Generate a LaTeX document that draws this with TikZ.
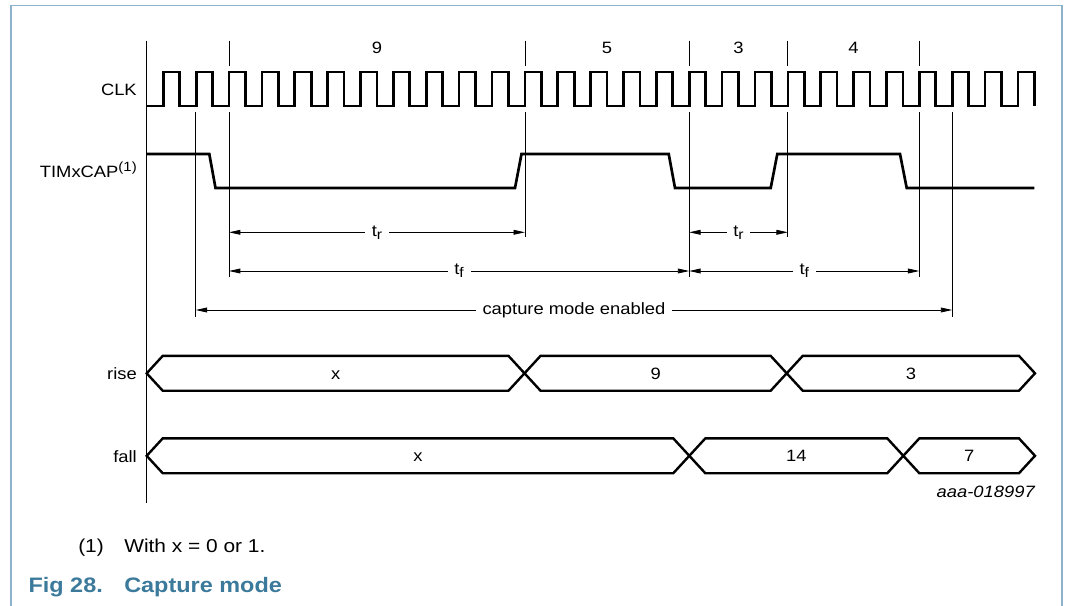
\documentclass[tikz,border=0pt]{standalone}
\usepackage{fontspec}
\setmainfont[FakeStretch=1.12]{Liberation Sans}
\usetikzlibrary{arrows.meta}

\definecolor{capblue}{RGB}{60,122,156}
\definecolor{frameblue}{RGB}{140,178,204}

\tikzset{
  txt/.style={font=\fontsize{12.3}{14}\selectfont, inner sep=0pt},
  sig/.style={line width=2pt, line join=miter},
  bus/.style={line width=1.8pt, line join=miter},
  tickline/.style={line width=0.6pt},
  dim/.style={line width=0.6pt, {Triangle[length=8.5pt,width=3.6pt]}-{Triangle[length=8.5pt,width=3.6pt]}},
  dimlbl/.style={txt, fill=white, inner xsep=5pt, inner ysep=1pt},
}

% lowered / raised indices at near text size
\newcommand{\lowidx}[1]{\raisebox{-2.2pt}{\fontsize{10.5}{12}\selectfont #1}}
\newcommand{\highidx}[1]{\raisebox{4.5pt}{\fontsize{10}{12}\selectfont #1}}

% one value of a bus: start x, end x, centre y, text, node name
\newcommand{\busseg}[5]{%
  \draw[bus] (#1,#3) -- (#1+16,#3-17.4) -- (#2-16,#3-17.4) -- (#2,#3)
     -- (#2-16,#3+17.4) -- (#1+16,#3+17.4) -- cycle;
  \node[txt, anchor=base] (#5) at ({(#1+#2)/2},#3+6) {#4};
}

\begin{document}
\begin{tikzpicture}[x=0.75pt,y=-0.75pt]
    \useasboundingbox (0,0) rectangle (1066,606);
    \draw[frameblue, line width=1.2pt] (11,606) -- (11,5.5) -- (1062,5.5) -- (1062,606);

    % edge markers
    \coordinate (m1) at (195.7,0);
    \coordinate (m2) at (229,0);
    \coordinate (m11) at (524.9,0);
    \coordinate (m16) at (689.2,0);
    \coordinate (m19) at (787.8,0);
    \coordinate (m23) at (919.3,0);
    \coordinate (m24) at (952.2,0);
    \coordinate (ytr) at (0,232.3);
    \coordinate (ytf) at (0,271);
    \coordinate (ycap) at (0,310);

    \draw[tickline] (146.7,40.7) -- (146.7,502.7);
    \foreach \m/\b in {m2/277.3, m11/237.3, m16/277.3, m19/237.3, m23/277.3}
      \draw[tickline] (\m |- 0,40.7) -- (\m |- 0,66) (\m |- 0,112) -- (\m |- 0,\b);
    \foreach \m in {m1, m24}
      \draw[tickline] (\m |- 0,112) -- (\m |- 0,316.7);

    \node[txt, anchor=base] (n9) at (377,54) {9};
    \node[txt, anchor=base] (n5) at (607,54) {5};
    \node[txt, anchor=base] (n3) at (738.5,54) {3};
    \node[txt, anchor=base] (n4) at (853.5,54) {4};

    % signals
    \node[txt, anchor=base east] (clk) at (137,95.7) {CLK};
    \draw[sig] (146.7,106) -- (163.3,106)
      \foreach \n in {0,...,25} { -- ++(0,-34) -- ++(16.435,0) -- ++(0,34) -- ++(16.435,0) }
      -- ++(0,-34) -- ++(16.435,0) -- ++(0,34);

    \node[txt, anchor=base east] (cap) at (137,177.7) {TIMxCAP\highidx{(1)}};
    \draw[sig] (146.7,154) -- (209.3,154) -- (215.5,188) -- (515,188) -- (521.5,154)
      -- (668.7,154) -- (675,188) -- (770.7,188) -- (777.3,154) -- (900,154)
      -- (906.7,188) -- (1034.3,188);

    % times
    \draw[dim] (m2 |- ytr) -- node[dimlbl] (tr1) {t\lowidx{r}} (m11 |- ytr);
    \draw[dim] (m16 |- ytr) -- node[dimlbl] (tr2) {t\lowidx{r}} (m19 |- ytr);
    \draw[dim] (m2 |- ytf) -- node[dimlbl] (tf1) {t\lowidx{f}} (m16 |- ytf);
    \draw[dim] (m16 |- ytf) -- node[dimlbl] (tf2) {t\lowidx{f}} (m23 |- ytf);
    \draw[dim] (m1 |- ycap) -- node[dimlbl] (en) {capture mode enabled} (m24 |- ycap);

    % registers
    \node[txt, anchor=base east] (rise) at (137,379.3) {rise};
    \busseg{146.7}{524.5}{373.3}{x}{r1}
    \busseg{524.5}{786.7}{373.3}{9}{r2}
    \busseg{786.7}{1035}{373.3}{3}{r3}

    \node[txt, anchor=base east] (fall) at (137,462.3) {fall};
    \busseg{146.7}{689.3}{455.8}{x}{f1}
    \busseg{689.3}{903.3}{455.8}{14}{f2}
    \busseg{903.3}{1035}{455.8}{7}{f3}

    \node[txt, anchor=base east, font=\fontsize{12.3}{14}\selectfont\itshape] (code) at (1035,497.5) {aaa-018997};

    \node[anchor=base west, inner sep=0pt, font=\fontsize{14}{16}\selectfont] (fn) at (78,552.7) {(1)};
    \node[anchor=base west, inner sep=0pt, font=\fontsize{14}{16}\selectfont] (fntext) at (124,552.7) {With x = 0 or 1.};
    \node[anchor=base west, inner sep=0pt, text=capblue, font=\fontsize{15.7}{18}\selectfont\bfseries] (fig) at (28.3,592) {Fig 28.};
    \node[anchor=base west, inner sep=0pt, text=capblue, font=\fontsize{15.7}{18}\selectfont\bfseries] (title) at (124,592) {Capture mode};
\end{tikzpicture}
\end{document}
